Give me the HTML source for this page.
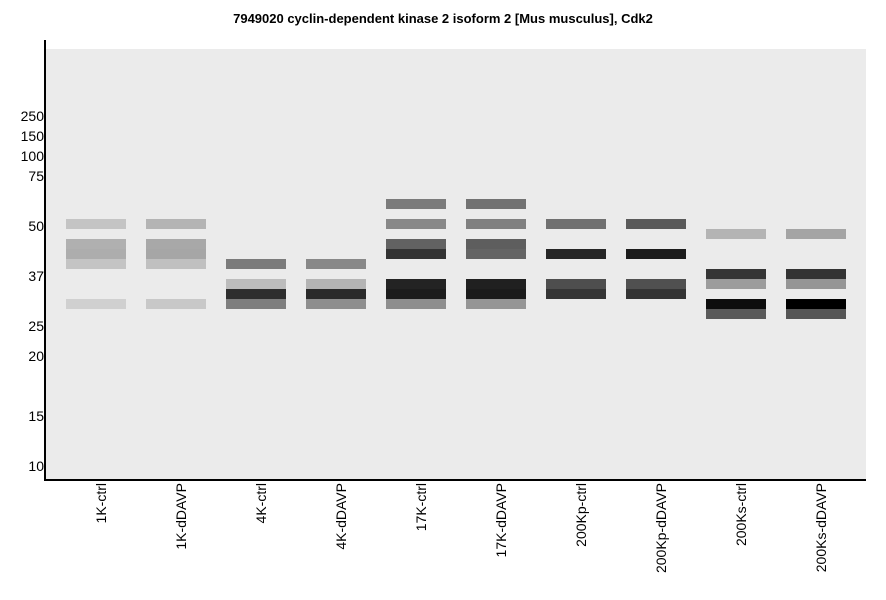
<!DOCTYPE html>
<html><head><style>body{margin:0;background:#fff}</style></head><body>
<svg width="886" height="595" xmlns="http://www.w3.org/2000/svg" font-family="Liberation Sans, Arial, sans-serif">
<rect width="886" height="595" fill="#fff"/>
<text x="443" y="23" font-size="13" font-weight="bold" text-anchor="middle">7949020 cyclin-dependent kinase 2 isoform 2 [Mus musculus], Cdk2</text>
<rect x="46" y="49" width="820" height="431" fill="#ebebeb"/>
<g id="bands">
<rect x="66" y="219" width="60" height="10" fill="#c4c4c4"/>
<rect x="66" y="239" width="60" height="10" fill="#b0b0b0"/>
<rect x="66" y="249" width="60" height="10" fill="#adadad"/>
<rect x="66" y="259" width="60" height="10" fill="#c4c4c4"/>
<rect x="66" y="299" width="60" height="10" fill="#d0d0d0"/>
<rect x="146" y="219" width="60" height="10" fill="#b4b4b4"/>
<rect x="146" y="239" width="60" height="10" fill="#a8a8a8"/>
<rect x="146" y="249" width="60" height="10" fill="#a6a6a6"/>
<rect x="146" y="259" width="60" height="10" fill="#c0c0c0"/>
<rect x="146" y="299" width="60" height="10" fill="#c8c8c8"/>
<rect x="226" y="259" width="60" height="10" fill="#7b7b7b"/>
<rect x="226" y="279" width="60" height="10" fill="#bcbcbc"/>
<rect x="226" y="289" width="60" height="10" fill="#2e2e2e"/>
<rect x="226" y="299" width="60" height="10" fill="#7e7e7e"/>
<rect x="306" y="259" width="60" height="10" fill="#888"/>
<rect x="306" y="279" width="60" height="10" fill="#b4b4b4"/>
<rect x="306" y="289" width="60" height="10" fill="#2a2a2a"/>
<rect x="306" y="299" width="60" height="10" fill="#8e8e8e"/>
<rect x="386" y="199" width="60" height="10" fill="#7b7b7b"/>
<rect x="386" y="219" width="60" height="10" fill="#888"/>
<rect x="386" y="239" width="60" height="10" fill="#626262"/>
<rect x="386" y="249" width="60" height="10" fill="#333"/>
<rect x="386" y="279" width="60" height="10" fill="#232323"/>
<rect x="386" y="289" width="60" height="10" fill="#1c1c1c"/>
<rect x="386" y="299" width="60" height="10" fill="#8e8e8e"/>
<rect x="466" y="199" width="60" height="10" fill="#727272"/>
<rect x="466" y="219" width="60" height="10" fill="#808080"/>
<rect x="466" y="239" width="60" height="10" fill="#5e5e5e"/>
<rect x="466" y="249" width="60" height="10" fill="#646464"/>
<rect x="466" y="279" width="60" height="10" fill="#202020"/>
<rect x="466" y="289" width="60" height="10" fill="#1b1b1b"/>
<rect x="466" y="299" width="60" height="10" fill="#959595"/>
<rect x="546" y="219" width="60" height="10" fill="#707070"/>
<rect x="546" y="249" width="60" height="10" fill="#262626"/>
<rect x="546" y="279" width="60" height="10" fill="#4e4e4e"/>
<rect x="546" y="289" width="60" height="10" fill="#353535"/>
<rect x="626" y="219" width="60" height="10" fill="#5a5a5a"/>
<rect x="626" y="249" width="60" height="10" fill="#1c1c1c"/>
<rect x="626" y="279" width="60" height="10" fill="#505050"/>
<rect x="626" y="289" width="60" height="10" fill="#343434"/>
<rect x="706" y="229" width="60" height="10" fill="#b4b4b4"/>
<rect x="706" y="269" width="60" height="10" fill="#353535"/>
<rect x="706" y="279" width="60" height="10" fill="#9c9c9c"/>
<rect x="706" y="299" width="60" height="10" fill="#0d0d0d"/>
<rect x="706" y="309" width="60" height="10" fill="#5a5a5a"/>
<rect x="786" y="229" width="60" height="10" fill="#a4a4a4"/>
<rect x="786" y="269" width="60" height="10" fill="#333"/>
<rect x="786" y="279" width="60" height="10" fill="#959595"/>
<rect x="786" y="299" width="60" height="10" fill="#000"/>
<rect x="786" y="309" width="60" height="10" fill="#555"/>
</g>
<rect x="44" y="40" width="2" height="441" fill="#000"/>
<rect x="44" y="479" width="822" height="2" fill="#000"/>
<g font-size="14" text-anchor="end" fill="#000">
<text x="44" y="121">250</text>
<text x="44" y="141">150</text>
<text x="44" y="161">100</text>
<text x="44" y="181">75</text>
<text x="44" y="231">50</text>
<text x="44" y="281">37</text>
<text x="44" y="331">25</text>
<text x="44" y="361">20</text>
<text x="44" y="421">15</text>
<text x="44" y="471">10</text>
</g>
<g font-size="14" text-anchor="end" fill="#000">
<text transform="translate(106,483) rotate(-90)">1K-ctrl</text>
<text transform="translate(186,483) rotate(-90)">1K-dDAVP</text>
<text transform="translate(266,483) rotate(-90)">4K-ctrl</text>
<text transform="translate(346,483) rotate(-90)">4K-dDAVP</text>
<text transform="translate(426,483) rotate(-90)">17K-ctrl</text>
<text transform="translate(506,483) rotate(-90)">17K-dDAVP</text>
<text transform="translate(586,483) rotate(-90)">200Kp-ctrl</text>
<text transform="translate(666,483) rotate(-90)">200Kp-dDAVP</text>
<text transform="translate(746,483) rotate(-90)">200Ks-ctrl</text>
<text transform="translate(826,483) rotate(-90)">200Ks-dDAVP</text>
</g>
</svg>
</body></html>
